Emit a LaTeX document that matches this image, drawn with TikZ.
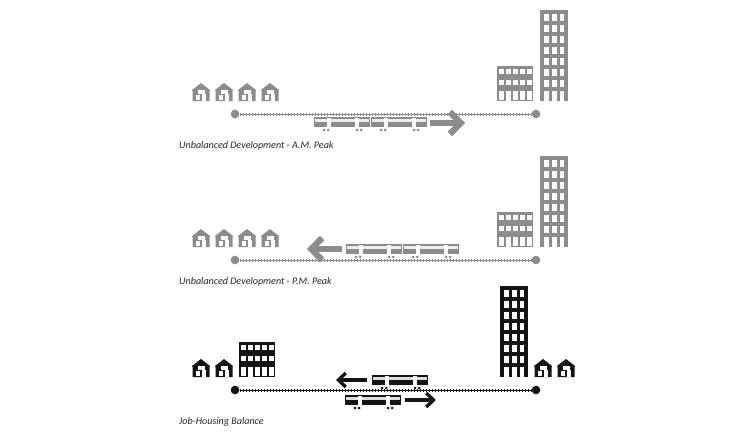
\documentclass[tikz,border=0pt]{standalone}
\usepackage{fontspec}
\setmainfont{Carlito}
\usetikzlibrary{arrows.meta}
\colorlet{mygray}{black!45}
\colorlet{myblack}{black!92}
\tikzset{
    stopdot/.style={circle, fill=#1, minimum size=2.6mm, inner sep=0pt},
    caption/.style={anchor=west, inner sep=0pt, font=\itshape\fontsize{8.6}{10}\selectfont, text=black!85},
    bigarrow/.style={line width=1.9mm, draw=mygray, -{Straight Barb[length=3.2mm,width=6.6mm]}},
    smallarrow/.style={line width=1mm, draw=myblack, -{Straight Barb[length=2.2mm,width=4.2mm]}}
}
% x y colour
\newcommand{\house}[3]{
    \begin{scope}[shift={(#1,#2)}]
        \fill[#3] (-8.5,0) -- (-8.5,-10) -- (-9,-11) -- (0,-18) -- (9,-11) -- (8.5,-10) -- (8.5,0) -- cycle;
        \fill[white] (-3.5,-11) rectangle (3.5,-7);
        \fill[white] (1,-7) rectangle (5,0);
        \fill[white] (-5,-6) rectangle (-1.5,-1);
    \end{scope}
}
% x y colour
\newcommand{\tower}[3]{
    \begin{scope}[shift={(#1,#2)}]
        \fill[#3] (0,0) rectangle (28,-91);
        \foreach \col in {4,12,19.5} {
            \foreach \row in {0,...,6}
                \fill[white] (\col,-87+\row*11) rectangle ++(4.5,7);
            \fill[white] (\col,-10) rectangle ++(4.5,10);
        }
    \end{scope}
}
% x y colour
\newcommand{\block}[3]{
    \begin{scope}[shift={(#1,#2)}]
        \fill[#3] (0,0) rectangle (36,-35);
        \foreach \col in {2,9,16,23,30} {
            \fill[white] (\col,-32) rectangle ++(4.6,5);
            \fill[white] (\col,-21) rectangle ++(4.6,5);
            \fill[white] (\col,-10) rectangle ++(4.6,9);
        }
        \fill[white] (9,-1) rectangle ++(4.6,1);
    \end{scope}
}
% x y colour
\newcommand{\railcar}[3]{
    \begin{scope}[shift={(#1,#2)}]
        \fill[#3] (0,0) rectangle (56,-10);
        \fill[white!85!#3] (1,-8.5) rectangle (55,-5.5);
        \fill[white] (13,-9.5) rectangle ++(3.5,9);
        \fill[white] (41,-9.5) rectangle ++(3.5,9);
        \fill[#3] (10,3) circle (1.5) (14,3) circle (1.5) (43,3) circle (1.5) (47,3) circle (1.5);
    \end{scope}
}
% left right y colour
\newcommand{\trackline}[4]{
    \node[stopdot=#4] (#1a) at (#2,#3) {};
    \coordinate (#1b) at (536,#3);
    \node[stopdot=#4] at (#1b) {};
    \draw[#4, line width=0.25mm] (#1a) -- (#1b);
    \draw[#4, line width=0.9mm, dash pattern=on 0.45mm off 0.45mm] (#1a) -- (#1b);
}

\begin{document}
\begin{tikzpicture}[x=0.3mm, y=-0.3mm]
    \useasboundingbox (0,0) rectangle (750,440);

    % A.M. peak
    \foreach \x in {201,224,247,270} \house{\x}{101}{mygray};
    \block{497}{101}{mygray}
    \tower{540}{101}{mygray}
    \trackline{am}{235}{114}{mygray}
    \railcar{314}{127}{mygray}
    \railcar{371}{127}{mygray}
    \coordinate (amfrom) at (430,123);
    \coordinate (amto) at (465,123);
    \draw[bigarrow] (amfrom) -- (amto);
    \node[caption] (amlabel) at (179,145.5) {Unbalanced Development - A.M. Peak};

    % P.M. peak
    \foreach \x in {201,224,247,270} \house{\x}{247}{mygray};
    \block{497}{247}{mygray}
    \tower{540}{247}{mygray}
    \trackline{pm}{235}{260}{mygray}
    \railcar{346}{254}{mygray}
    \railcar{403}{254}{mygray}
    \coordinate (pmfrom) at (342,249);
    \coordinate (pmto) at (307,249);
    \draw[bigarrow] (pmfrom) -- (pmto);
    \node[caption] (pmlabel) at (179,281.5) {Unbalanced Development - P.M. Peak};

    % balance
    \foreach \x in {201,224,543,566} \house{\x}{377}{myblack};
    \block{239}{377}{myblack}
    \tower{500}{377}{myblack}
    \trackline{jh}{235}{390}{myblack}
    \railcar{372}{385}{myblack}
    \railcar{345}{405}{myblack}
    \coordinate (wbfrom) at (367,380);
    \coordinate (wbto) at (336,380);
    \draw[smallarrow] (wbfrom) -- (wbto);
    \coordinate (ebfrom) at (405,400);
    \coordinate (ebto) at (436,400);
    \draw[smallarrow] (ebfrom) -- (ebto);
    \node[caption] (jhlabel) at (179,421.5) {Job-Housing Balance};

\end{tikzpicture}
\end{document}
